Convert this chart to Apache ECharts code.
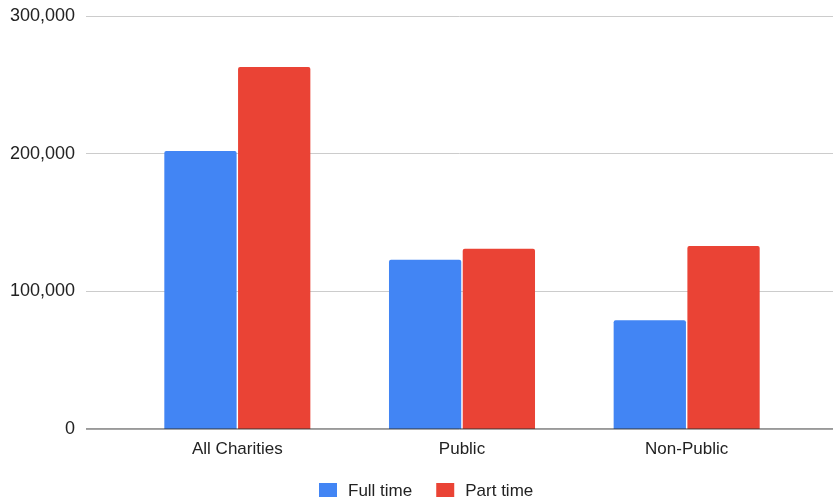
<!DOCTYPE html>
<html>
<head>
<meta charset="utf-8">
<script src="https://cdn.jsdelivr.net/npm/echarts@6/dist/echarts.min.js"></script>
<style>
  html, body { margin: 0; padding: 0; background: #fff; }
  #chart { width: 833px; height: 497px; }
</style>
</head>
<body>
<div id="chart"></div>
<script>
// --- data ---
const categories = ['All Charities', 'Public', 'Non-Public'];
const fullTime = [202000, 123000, 79000];
const partTime = [263000, 131000, 133000];
const yTicks = [0, 100000, 200000, 300000];

const FONT = '"Liberation Sans", Arial, Helvetica, sans-serif';
const fmt = v => v.toLocaleString('en-US');

const chart = echarts.init(document.getElementById('chart'), null, { renderer: 'canvas' });

chart.setOption({
    backgroundColor: '#fff',
    animation: false,
    textStyle: { fontFamily: FONT },
    grid: [
        // wide grid: gridlines, y labels, baseline
        { left: 86, right: 0, top: 16, bottom: 68 },
        // bars
        { left: 125, right: 34, top: 16, bottom: 68 }
    ],
    legend: {
        left: 314,
        top: 478,
        itemWidth: 18,
        itemHeight: 17,
        itemGap: 24,
        icon: 'rect',
        textStyle: { fontSize: 17, color: '#222', fontFamily: FONT, padding: [0, 0, 0, 6] },
        data: ['Full time', 'Part time']
    },
    xAxis: [
        {
            gridIndex: 0, type: 'value', min: 0, max: 1,
            axisLabel: { show: false }, axisTick: { show: false }, splitLine: { show: false },
            axisLine: { show: false }
        },
        {
            gridIndex: 1, type: 'category', data: categories,
            axisLine: { show: false },
            axisTick: { show: false },
            axisLabel: { fontSize: 17, color: '#222', margin: 12, fontFamily: FONT }
        }
    ],
    yAxis: [
        {
            gridIndex: 0, type: 'value', min: yTicks[0], max: yTicks[yTicks.length - 1], interval: 100000,
            axisLine: { show: false }, axisTick: { show: false },
            axisLabel: { fontSize: 18, color: '#222', margin: 11, formatter: fmt, fontFamily: FONT },
            splitLine: { lineStyle: { color: '#cccccc', width: 1 } }
        },
        {
            gridIndex: 1, type: 'value', min: yTicks[0], max: yTicks[yTicks.length - 1], interval: 100000,
            axisLine: { show: false }, axisTick: { show: false },
            axisLabel: { show: false }, splitLine: { show: false }
        }
    ],
    series: [
        {
            // baseline at zero across the full width
            type: 'line', xAxisIndex: 0, yAxisIndex: 0,
            data: [[0, 0], [1, 0]], symbol: 'none', silent: true, z: 5,
            lineStyle: { color: '#333333', width: 1 }
        },
        {
            name: 'Full time', type: 'bar', xAxisIndex: 1, yAxisIndex: 1,
            data: fullTime, barGap: '2%', barCategoryGap: '35%',
            itemStyle: { color: '#4285F4', borderRadius: [2, 2, 0, 0] }
        },
        {
            name: 'Part time', type: 'bar', xAxisIndex: 1, yAxisIndex: 1,
            data: partTime,
            itemStyle: { color: '#EA4335', borderRadius: [2, 2, 0, 0] }
        }
    ]
});
</script>
</body>
</html>
